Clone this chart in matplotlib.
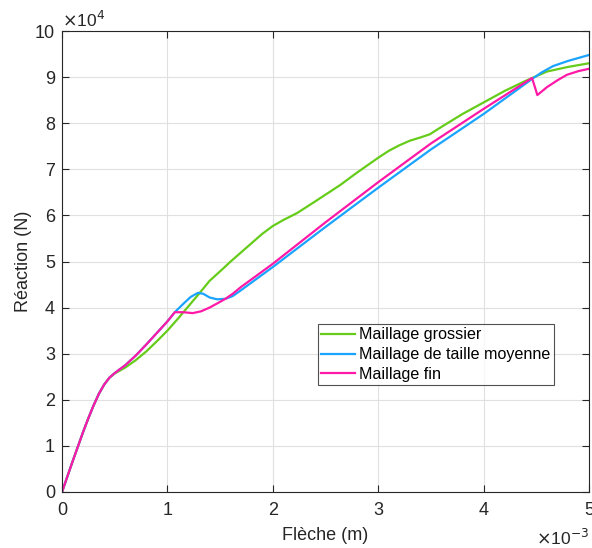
import matplotlib
matplotlib.use("Agg")
import matplotlib.pyplot as plt
import numpy as np
from matplotlib.ticker import FuncFormatter, MultipleLocator

plt.rcParams['font.family'] = ['Liberation Sans', 'DejaVu Sans']

# x in units of 1e-3 m, y in units of 1e4 N
x_gros = [0, 0.05, 0.1, 0.15, 0.2, 0.25, 0.3, 0.35, 0.4, 0.45, 0.5, 0.6, 0.7, 0.8, 0.9, 1.0, 1.1, 1.2,
          1.3, 1.4, 1.53, 1.6, 1.7, 1.8, 1.9, 2.0, 2.1, 2.23, 2.4, 2.64, 2.8, 3.0, 3.1, 3.2, 3.3, 3.4,
          3.49, 3.6, 3.8, 4.0, 4.2, 4.4, 4.5, 4.6, 4.8, 5.0]
y_gros = [0, 0.33, 0.66, 0.98, 1.3, 1.6, 1.88, 2.13, 2.33, 2.48, 2.57, 2.7, 2.86, 3.05, 3.27, 3.5, 3.76,
          4.03, 4.3, 4.58, 4.85, 5.0, 5.2, 5.4, 5.6, 5.77, 5.9, 6.05, 6.3, 6.66, 6.93, 7.25, 7.4,
          7.52, 7.62, 7.69, 7.76, 7.92, 8.2, 8.45, 8.7, 8.92, 9.02, 9.12, 9.22, 9.3]

x_moy = [0, 0.05, 0.1, 0.15, 0.2, 0.25, 0.3, 0.35, 0.4, 0.45, 0.5, 0.6, 0.7, 0.8, 0.9, 1.0, 1.07,
         1.15, 1.22, 1.29, 1.34, 1.4, 1.47, 1.55, 1.62, 1.7, 2.0, 2.5, 3.0, 3.5, 4.0, 4.46, 4.55,
         4.66, 4.8, 5.0]
y_moy = [0, 0.33, 0.66, 0.98, 1.3, 1.6, 1.88, 2.13, 2.33, 2.48, 2.58, 2.75, 2.96, 3.2, 3.45, 3.7, 3.9,
         4.08, 4.23, 4.32, 4.3, 4.22, 4.18, 4.19, 4.25, 4.38, 4.88, 5.75, 6.6, 7.43, 8.2, 8.96, 9.1,
         9.24, 9.35, 9.48]

x_fin = [0, 0.05, 0.1, 0.15, 0.2, 0.25, 0.3, 0.35, 0.4, 0.45, 0.5, 0.6, 0.7, 0.8, 0.9, 1.0, 1.07,
         1.15, 1.24, 1.32, 1.4, 1.48, 1.55, 1.62, 1.7, 2.0, 2.5, 3.0, 3.5, 4.0, 4.46, 4.51, 4.6,
         4.7, 4.79, 4.9, 5.0]
y_fin = [0, 0.33, 0.66, 0.98, 1.3, 1.6, 1.88, 2.13, 2.33, 2.48, 2.58, 2.75, 2.96, 3.2, 3.45, 3.7, 3.9,
         3.9, 3.88, 3.92, 4.0, 4.1, 4.19, 4.3, 4.45, 4.95, 5.85, 6.72, 7.56, 8.31, 8.98, 8.61, 8.78,
         8.93, 9.05, 9.13, 9.18]

labels = ["Maillage grossier", "Maillage de taille moyenne", "Maillage fin"]
colors = ["#66CC1A", "#1AA3FF", "#FF19A6"]

fig = plt.figure(figsize=(5.92, 5.48), dpi=100)
ax = fig.add_axes([62/592, 56/548, 527/592, 461/548])

for xs, ys, lab, c in zip([x_gros, x_moy, x_fin], [y_gros, y_moy, y_fin], labels, colors):
    ax.plot(np.array(xs) * 1e-3, np.array(ys) * 1e4, color=c, lw=1.6, label=lab)

ax.set_xlim(0, 5e-3)
ax.set_ylim(0, 1e5)
ax.xaxis.set_major_locator(MultipleLocator(1e-3))
ax.yaxis.set_major_locator(MultipleLocator(1e4))
ax.xaxis.set_major_formatter(FuncFormatter(lambda v, p: f"{v*1e3:.0f}"))
ax.yaxis.set_major_formatter(FuncFormatter(lambda v, p: f"{v*1e-4:.0f}"))

dark = "#262626"
for s in ax.spines.values():
    s.set_color(dark)
    s.set_linewidth(0.8)
ax.tick_params(direction='in', top=True, right=True, length=5, width=0.8,
               colors=dark, labelsize=13, labelcolor=dark)
ax.tick_params(axis='x', pad=7)
ax.tick_params(axis='y', pad=5)
ax.grid(True, color="#E0E0E0", lw=0.8)
ax.set_axisbelow(True)

ax.set_xlabel("Flèche (m)", fontsize=13, color=dark, labelpad=6)
ax.set_ylabel("Réaction (N)", fontsize=13, color=dark, labelpad=2)

ax.text(0.0, 1.003, r"$\times$10$^{4}$", transform=ax.transAxes, ha='left', va='bottom',
        fontsize=12.5, color=dark)
ax.text(1.0, -0.077, r"$\times$10$^{-3}$", transform=ax.transAxes, ha='right', va='top',
        fontsize=12.5, color=dark)

leg = ax.legend(loc='upper left', bbox_to_anchor=(0.486, 0.364), borderaxespad=0,
                fontsize=11.6, frameon=True, fancybox=False, handlelength=2.1,
                handletextpad=0.25, borderpad=0.2, labelspacing=0.3)
leg.get_frame().set_edgecolor(dark)
leg.get_frame().set_linewidth(0.8)
for t in leg.get_texts():
    t.set_color("black")

fig.savefig("out.png", dpi=100)
